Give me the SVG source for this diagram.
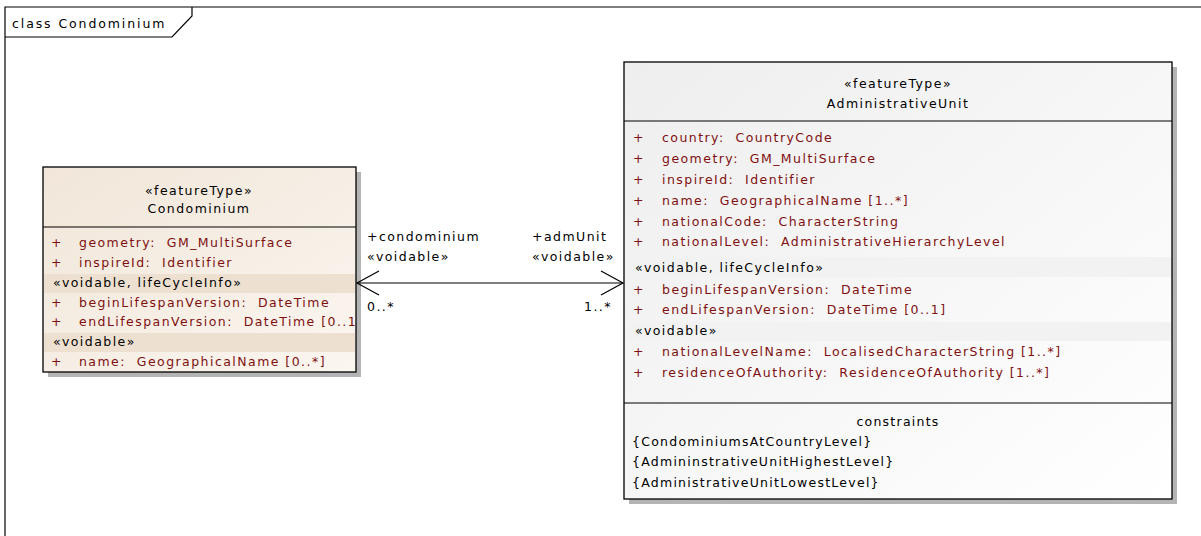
<svg xmlns="http://www.w3.org/2000/svg" width="1201" height="536" viewBox="0 0 1201 536">
<defs>
<linearGradient id="gBeige" x1="0" y1="0" x2="1" y2="1">
<stop offset="0" stop-color="#f1e6d9"/>
<stop offset="1" stop-color="#fbf6f0"/>
</linearGradient>
<linearGradient id="gGray" x1="0" y1="0" x2="1" y2="1">
<stop offset="0" stop-color="#eeeeee"/>
<stop offset="1" stop-color="#ffffff"/>
</linearGradient>
<clipPath id="clipL"><rect x="43" y="167" width="313" height="205"/></clipPath>
</defs>
<style>
text{font-family:"DejaVu Sans",Verdana,sans-serif;font-size:12.5px;letter-spacing:1.45px;fill:#000;white-space:pre}
.a{fill:#7f1010}
.c{text-anchor:middle}
.e{text-anchor:end}
.t{letter-spacing:1.9px}
.k{letter-spacing:1.25px}
.box{stroke:#000;stroke-width:1.3}
.sh{fill:#b4b4b4}
.ln{stroke:#000;stroke-width:1.2;fill:none}
.bb{fill:#eee0d0}
.bg{fill:#f2f2f2}
</style>
<rect width="1201" height="536" fill="#fff"/>
<g id="frame">
<path class="ln" d="M5,536 V7 H1201"/>
<path class="ln" d="M5,37 H172 L192,16 V7"/>
<text class="t" x="12" y="28">class Condominium</text>
</g>
<g id="condominium">
<rect class="sh" x="48" y="172" width="313" height="205"/>
<rect class="box" x="43" y="167" width="313" height="205" fill="url(#gBeige)"/>
<rect class="bb" x="44" y="274" width="311" height="19"/>
<rect class="bb" x="44" y="333" width="311" height="19"/>
<line class="ln" x1="43" y1="227" x2="356" y2="227"/>
<g clip-path="url(#clipL)">
<text class="c" x="199" y="195">«featureType»</text>
<text class="c" x="199" y="213">Condominium</text>
<text class="a" x="51" y="247">+</text><text class="a" x="79" y="247">geometry:  GM_MultiSurface</text>
<text class="a" x="51" y="267">+</text><text class="a" x="79" y="267">inspireId:  Identifier</text>
<text x="53" y="287">«voidable, lifeCycleInfo»</text>
<text class="a" x="51" y="307">+</text><text class="a" x="79" y="307">beginLifespanVersion:  DateTime</text>
<text class="a" x="51" y="326">+</text><text class="a" x="79" y="326">endLifespanVersion:  DateTime [0..1]</text>
<text x="53" y="346">«voidable»</text>
<text class="a" x="51" y="366">+</text><text class="a" x="79" y="366">name:  GeographicalName [0..*]</text>
</g>
</g>
<g id="administrativeunit">
<rect class="sh" x="629" y="67" width="548" height="437"/>
<rect class="box" x="624" y="62" width="548" height="437" fill="url(#gGray)"/>
<rect class="bg" x="625" y="257" width="546" height="20"/>
<rect class="bg" x="625" y="322" width="546" height="19"/>
<line class="ln" x1="624" y1="121" x2="1172" y2="121"/>
<line class="ln" x1="624" y1="403" x2="1172" y2="403"/>
<text class="c" x="898" y="88">«featureType»</text>
<text class="c" x="898" y="108">AdministrativeUnit</text>
<text class="a" x="633" y="142">+</text><text class="a" x="662" y="142">country:  CountryCode</text>
<text class="a" x="633" y="163">+</text><text class="a" x="662" y="163">geometry:  GM_MultiSurface</text>
<text class="a" x="633" y="184">+</text><text class="a" x="662" y="184">inspireId:  Identifier</text>
<text class="a" x="633" y="205">+</text><text class="a" x="662" y="205">name:  GeographicalName [1..*]</text>
<text class="a" x="633" y="226">+</text><text class="a" x="662" y="226">nationalCode:  CharacterString</text>
<text class="a" x="633" y="246">+</text><text class="a" x="662" y="246">nationalLevel:  AdministrativeHierarchyLevel</text>
<text x="635" y="272">«voidable, lifeCycleInfo»</text>
<text class="a" x="633" y="294">+</text><text class="a" x="662" y="294">beginLifespanVersion:  DateTime</text>
<text class="a" x="633" y="314">+</text><text class="a" x="662" y="314">endLifespanVersion:  DateTime [0..1]</text>
<text x="635" y="335">«voidable»</text>
<text class="a" x="633" y="356">+</text><text class="a" x="662" y="356">nationalLevelName:  LocalisedCharacterString [1..*]</text>
<text class="a" x="633" y="377">+</text><text class="a" x="662" y="377">residenceOfAuthority:  ResidenceOfAuthority [1..*]</text>
<text class="c k" x="898" y="426">constraints</text>
<text class="k" x="632" y="446">{CondominiumsAtCountryLevel}</text>
<text class="k" x="632" y="466">{AdmininstrativeUnitHighestLevel}</text>
<text class="k" x="632" y="487">{AdministrativeUnitLowestLevel}</text>
</g>
<g id="connectors">
<line class="ln" x1="357" y1="283" x2="623" y2="283"/>
<path class="ln" d="M379,271 L357,283 L379,295"/>
<path class="ln" d="M601,271 L623,283 L601,295"/>
<text x="367" y="241">+condominium</text>
<text x="367" y="261">«voidable»</text>
<text x="532" y="241">+admUnit</text>
<text x="532" y="261">«voidable»</text>
<text x="367" y="311">0..*</text>
<text class="e" x="612" y="311">1..*</text>
</g>
</svg>
